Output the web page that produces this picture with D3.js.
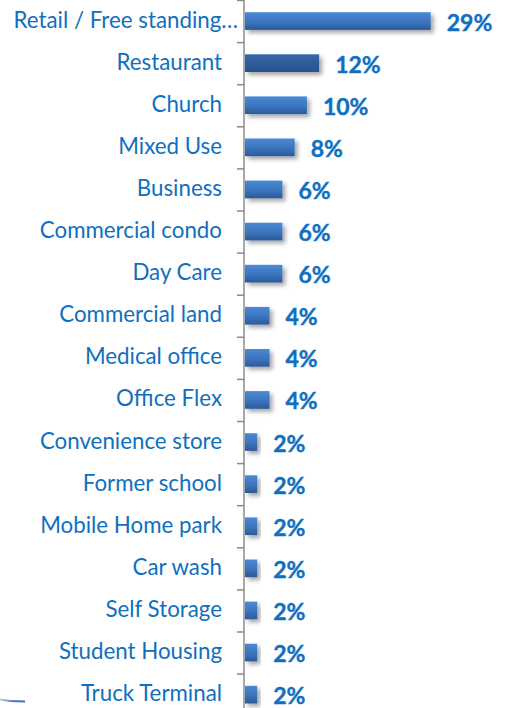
<!DOCTYPE html>
<html><head><meta charset="utf-8">
<script src="https://cdn.jsdelivr.net/npm/d3@7"></script>
<style>html,body{margin:0;padding:0;background:#fff;overflow:hidden}</style>
</head><body>
<svg id="c" width="507" height="708"></svg>
<script>
const categories = ["Retail / Free standing…","Restaurant","Church","Mixed Use","Business","Commercial condo","Day Care","Commercial land","Medical office","Office Flex","Convenience store","Former school","Mobile Home park","Car wash","Self Storage","Student Housing","Truck Terminal"];
const values = [28.8,11.5,9.6,7.7,5.8,5.8,5.8,3.8,3.8,3.8,1.9,1.9,1.9,1.9,1.9,1.9,1.9];
const valueLabels = ["29%","12%","10%","8%","6%","6%","6%","4%","4%","4%","2%","2%","2%","2%","2%","2%","2%"];
const highlighted = ["Restaurant"];

const svg = d3.select("#c");
const axisX = 244;
const x = d3.scaleLinear().domain([0,35]).range([axisX+1, axisX+1+225.7]);
const y = d3.scaleBand().domain(categories).range([0, 17*42.1]).paddingInner(0.58).paddingOuter(0.29);

const defs = svg.append("defs");
const g1 = defs.append("linearGradient").attr("id","gb").attr("x1",0).attr("y1",0).attr("x2",0).attr("y2",1);
g1.append("stop").attr("offset","0%").attr("stop-color","#4a8ad6");
g1.append("stop").attr("offset","55%").attr("stop-color","#3b74be");
g1.append("stop").attr("offset","100%").attr("stop-color","#2c5a98");
const g2 = defs.append("linearGradient").attr("id","gd").attr("x1",0).attr("y1",0).attr("x2",0).attr("y2",1);
g2.append("stop").attr("offset","0%").attr("stop-color","#3467a8");
g2.append("stop").attr("offset","100%").attr("stop-color","#28528c");
const f = defs.append("filter").attr("id","sh").attr("x","-20%").attr("y","-40%").attr("width","150%").attr("height","200%");
f.append("feDropShadow").attr("dx",3).attr("dy",3).attr("stdDeviation",2).attr("flood-color","#000").attr("flood-opacity",0.35);
const lg = defs.append("linearGradient").attr("id","cv").attr("x1",0).attr("y1",0).attr("x2",1).attr("y2",0);
lg.append("stop").attr("offset","0%").attr("stop-color","#4472c4").attr("stop-opacity",0.35);
lg.append("stop").attr("offset","60%").attr("stop-color","#4472c4").attr("stop-opacity",1);
lg.append("stop").attr("offset","100%").attr("stop-color","#4472c4").attr("stop-opacity",1);

// decorative curve bottom-left
svg.append("path").attr("d","M0,699.5 Q8,701.5 25,701.5").attr("fill","none").attr("stroke","url(#cv)").attr("stroke-width",2);

// bars
svg.append("g").selectAll("rect").data(categories).join("rect")
  .attr("x", x(0))
  .attr("y", d => y(d))
  .attr("width", (d,i) => x(values[i]) - x(0))
  .attr("height", y.bandwidth())
  .attr("fill", d => highlighted.includes(d) ? "url(#gd)" : "url(#gb)")
  .attr("filter","url(#sh)");

// axis
const ax = svg.append("g").attr("transform",`translate(${axisX},0)`);
ax.append("line").attr("x1",0).attr("x2",0).attr("y1",0).attr("y2",708).attr("stroke","#8c8c8c").attr("stroke-width",1.5);
const step = y.step();
ax.selectAll("line.t").data(d3.range(0,18)).join("line").attr("class","t")
  .attr("x1",-7).attr("x2",0).attr("y1",d=>d*step+0.5).attr("y2",d=>d*step+0.5)
  .attr("stroke","#8c8c8c").attr("stroke-width",1.5);

// category labels
svg.append("g").selectAll("text").data(categories).join("text")
  .attr("x", d => d.endsWith("…") ? axisX-6 : axisX-22)
  .attr("y", d => y(d) + y.bandwidth()/2 + 6.5)
  .attr("text-anchor","end")
  .attr("font-family","Lato, 'Open Sans', sans-serif")
  .attr("font-size",22.3)
  .attr("fill","#0f6fc0")
  .text(d => d);

// value labels
svg.append("g").selectAll("text").data(categories).join("text")
  .attr("x", (d,i) => x(values[i]) + 16)
  .attr("y", d => y(d) + y.bandwidth()/2 + 9.5)
  .attr("font-family","Lato, 'Open Sans', sans-serif")
  .attr("font-weight","bold")
  .attr("font-size",23)
  .attr("fill","#0f6fc0")
  .attr("stroke","#0f6fc0")
  .attr("stroke-width",0.4)
  .text((d,i) => valueLabels[i]);
</script>
</body></html>
